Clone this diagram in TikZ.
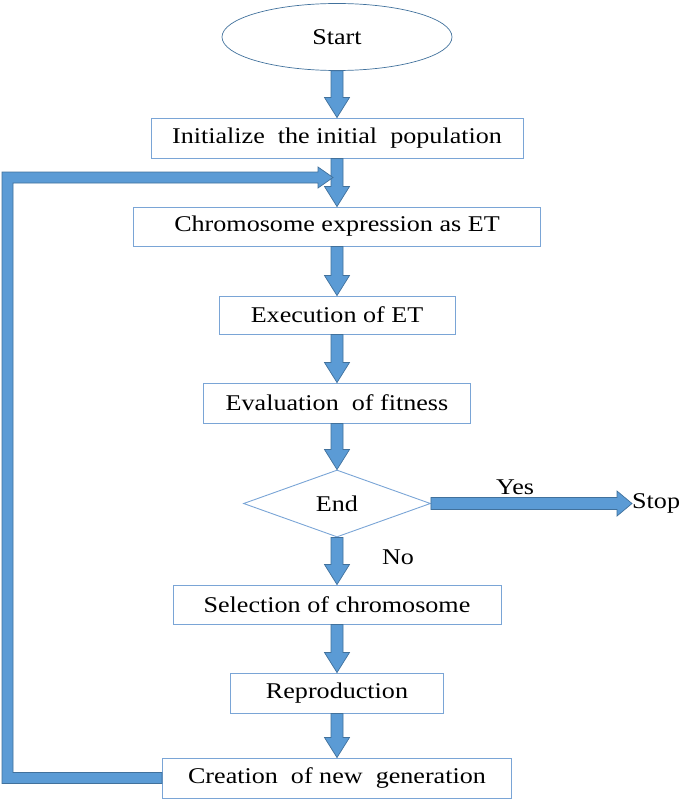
\documentclass[tikz,border=0pt]{standalone}
\usepackage{fontspec}
\setmainfont{Liberation Serif}
\newfontfamily\tnr[FakeStretch=1.16]{Liberation Serif}
\usetikzlibrary{shapes.geometric,calc}
\definecolor{boxline}{HTML}{7AA5D6}
\definecolor{arrowfill}{HTML}{5B9BD5}
\definecolor{arrowline}{HTML}{41719C}
\tikzset{
  txt/.style={font=\tnr\fontsize{22.5}{27}\selectfont, text=black},
  box/.style={txt, draw=boxline, line width=0.9pt, fill=white, inner sep=0pt, minimum height=40pt},
  blockarrow/.style={fill=arrowfill, draw=arrowline, line width=0.7pt, line join=miter},
}
\newcommand{\vblock}[2]{%
  \path let \p1=(#1.south), \p2=(#2.north) in
    [blockarrow] (\x1-6pt,\y1) -- (\x1-6pt,\y2+20pt) -- (\x1-12.5pt,\y2+20pt) -- (\x1,\y2)
    -- (\x1+12.5pt,\y2+20pt) -- (\x1+6pt,\y2+20pt) -- (\x1+6pt,\y1) -- cycle;}
\begin{document}
\begin{tikzpicture}[x=1pt,y=-1pt]
\useasboundingbox (0,0) rectangle (685,800);
\node[txt, ellipse, draw=arrowline, line width=0.7pt, inner sep=0pt, minimum width=230pt, minimum height=67pt] (start) at (337,37) {Start};
\node[box, minimum width=372pt] (b1) at (337,138) {Initialize\ \ the initial\ \ population};
\node[box, minimum width=407pt, minimum height=39pt] (b2) at (337,226.5) {Chromosome expression as ET};
\node[box, minimum width=236pt, minimum height=38pt] (b3) at (337,315) {Execution of ET};
\node[box, minimum width=267pt] (b4) at (337,403) {Evaluation\ \ of fitness};
\node[txt, diamond, draw=boxline, line width=0.9pt, inner sep=0pt, minimum width=187pt, minimum height=67pt, shape aspect=2.79] (dia) at (337,503.5) {End};
\node[txt, anchor=west, inner sep=0pt] (stop) at (632,503.5) {Stop};
\node[box, minimum width=328pt, minimum height=39pt] (b5) at (337,604.5) {Selection of chromosome};
\node[box, minimum width=213pt] (b6) at (337,693) {Reproduction};
\node[box, minimum width=349pt] (b7) at (337,778) {Creation\ \ of new\ \ generation};
\node[txt] (yes) at (515,487) {Yes};
\node[txt] (no) at (398,557) {No};
\coordinate (loopend) at (333,177.5);
\vblock{start}{b1}
\vblock{b1}{b2}
\vblock{b2}{b3}
\vblock{b3}{b4}
\vblock{b4}{dia}
\vblock{dia}{b5}
\vblock{b5}{b6}
\vblock{b6}{b7}
\path let \p1=(dia.east), \p2=(stop.west) in
  [blockarrow] (\x1,\y1+6pt) -- (\x2-15pt,\y1+6pt) -- (\x2-15pt,\y1+12.5pt) -- (\x2,\y1)
  -- (\x2-15pt,\y1-12.5pt) -- (\x2-15pt,\y1-6pt) -- (\x1,\y1-6pt) -- cycle;
\path let \p1=(b7.west), \p2=(loopend) in
  [blockarrow] (\x1,\y1+5.5pt) -- (13pt,\y1+5.5pt) -- (13pt,\y2-5.5pt) -- (\x2-15pt,\y2-5.5pt)
  -- (\x2-15pt,\y2-10.5pt) -- (\x2,\y2) -- (\x2-15pt,\y2+10.5pt) -- (\x2-15pt,\y2+5.5pt)
  -- (2pt,\y2+5.5pt) -- (2pt,\y1-5.5pt) -- (\x1,\y1-5.5pt) -- cycle;
\end{tikzpicture}
\end{document}
